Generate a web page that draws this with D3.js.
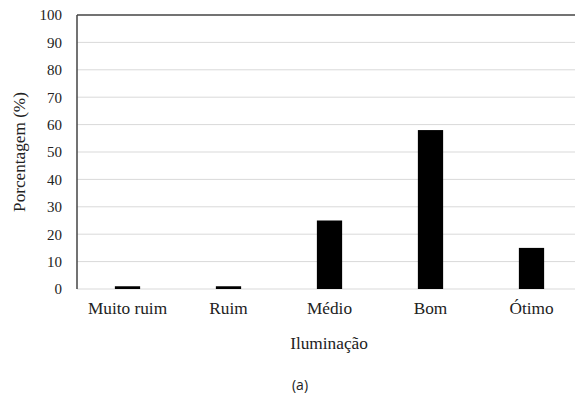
<!DOCTYPE html>
<html><head><meta charset="utf-8">
<script src="https://cdn.jsdelivr.net/npm/d3@7"></script>
<style>body{margin:0;background:#fff}svg{display:block}</style>
</head><body>
<script>
const categories = ["Muito ruim", "Ruim", "Médio", "Bom", "Ótimo"];
const values = [1, 1, 25, 58, 15];
const yTicks = [0,10,20,30,40,50,60,70,80,90,100];

const W = 575, H = 398;
const mLeft = 77, mTop = 15, mBottom = 289, mRight = 582;
const SERIF = '"Liberation Serif","Times New Roman",serif';
const svg = d3.select("body").append("svg").attr("width", W).attr("height", H);

const x = d3.scaleBand().domain(categories).range([mLeft, mRight]).paddingInner(0.75).paddingOuter(0.375);
const y = d3.scaleLinear().domain([0, 100]).range([mBottom, mTop]);

// gridlines
svg.append("g").selectAll("line").data(yTicks.filter(d => d > 0 && d < 100)).join("line")
  .attr("x1", mLeft).attr("x2", W).attr("y1", d => y(d)).attr("y2", d => y(d))
  .attr("stroke", "#d9d9d9").attr("stroke-width", 1);
svg.append("line").attr("x1", mLeft).attr("x2", W).attr("y1", y(0)).attr("y2", y(0))
  .attr("stroke", "#d9d9d9").attr("stroke-width", 1);
svg.append("line").attr("x1", mLeft).attr("x2", W).attr("y1", y(100)).attr("y2", y(100))
  .attr("stroke", "#444").attr("stroke-width", 1.5);
svg.append("line").attr("x1", mLeft).attr("x2", mLeft).attr("y1", y(100)).attr("y2", y(0))
  .attr("stroke", "#444").attr("stroke-width", 1.5);

// bars
svg.append("g").selectAll("rect").data(values).join("rect")
  .attr("x", (d, i) => x(categories[i]))
  .attr("width", x.bandwidth())
  .attr("y", d => y(d))
  .attr("height", d => y(0) - y(d))
  .attr("fill", "#000");

// y tick labels
const yAxis = d3.axisLeft(y).tickValues(yTicks).tickSize(0).tickPadding(15);
const ga = svg.append("g").attr("transform", `translate(${mLeft},0)`).call(yAxis);
ga.select(".domain").remove();
ga.attr("font-family", null).attr("font-size", null);
ga.selectAll("text").style("font-family", SERIF).style("font-size", "15px").attr("fill", "#222");

// x tick labels
const xAxis = d3.axisBottom(x).tickSize(0).tickPadding(13);
const gx = svg.append("g").attr("transform", `translate(0,${mBottom})`).call(xAxis);
gx.select(".domain").remove();
gx.attr("font-family", null).attr("font-size", null);
gx.selectAll("text").style("font-family", SERIF).style("font-size", "17.3px").attr("fill", "#222");

svg.append("text").attr("x", 329).attr("y", 349).attr("text-anchor", "middle")
  .style("font-family", SERIF).style("font-size", "17.3px").attr("fill", "#222").text("Iluminação");
svg.append("text").attr("transform", "translate(25,152) rotate(-90)").attr("text-anchor", "middle")
  .style("font-family", SERIF).style("font-size", "17.2px").attr("fill", "#222").text("Porcentagem (%)");
svg.append("text").attr("x", 300).attr("y", 390).attr("text-anchor", "middle")
  .style("font-family", '"Open Sans", sans-serif').style("font-size", "14px").attr("fill", "#222").text("(a)");
</script>
</body></html>
